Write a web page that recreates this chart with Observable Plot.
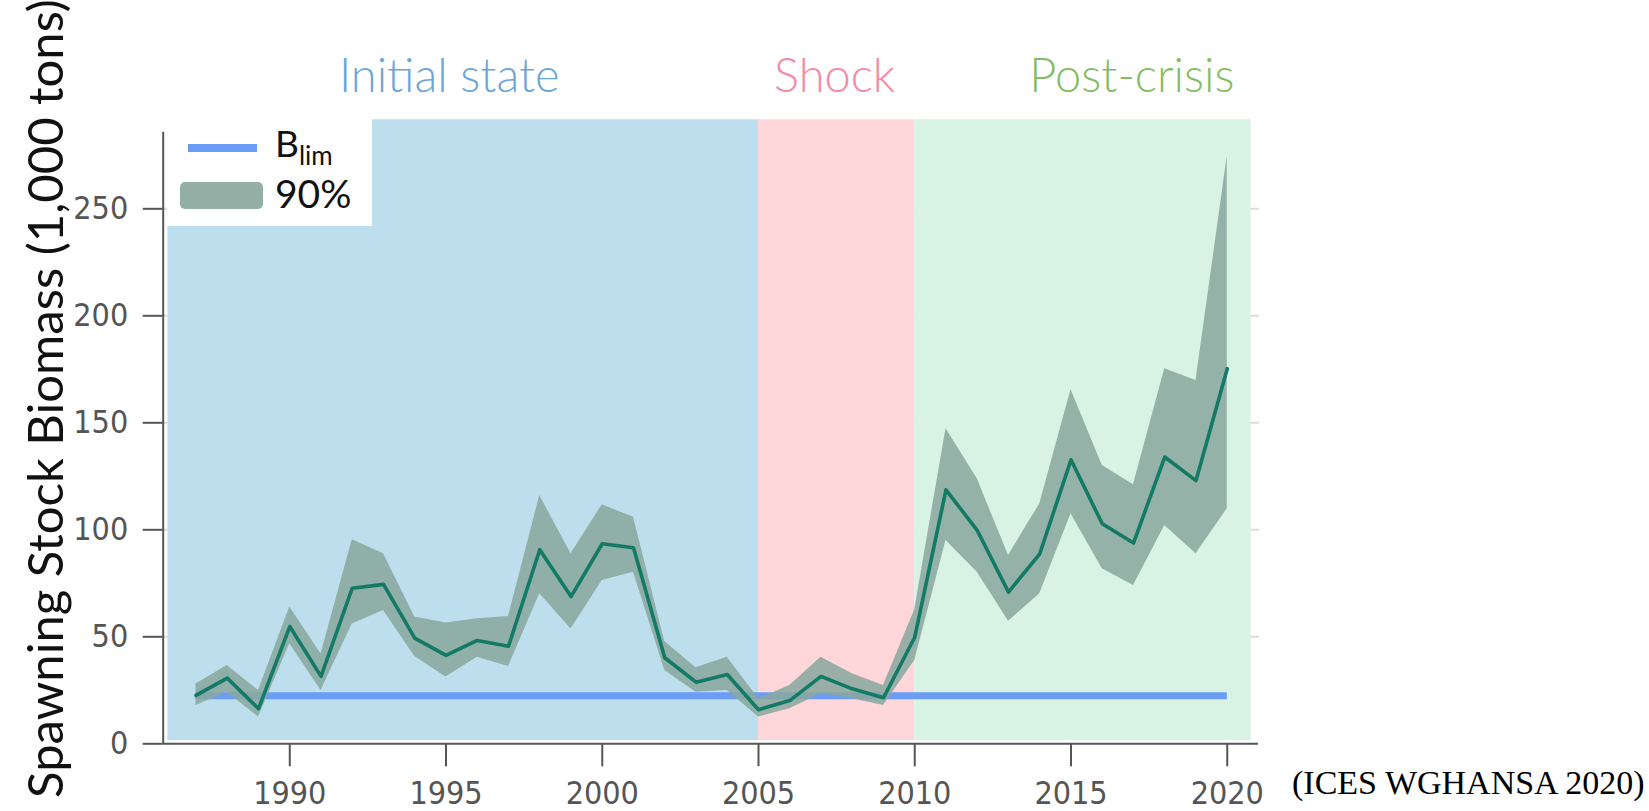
<!DOCTYPE html>
<html>
<head>
<meta charset="utf-8">
<script src="https://cdn.jsdelivr.net/npm/d3@7"></script>
<script src="https://cdn.jsdelivr.net/npm/@observablehq/plot@0.6"></script>
<style>
  html, body { margin: 0; padding: 0; background: #fff; }
  #wrap { position: relative; width: 1649px; height: 811px; overflow: hidden; }
  #wrap svg { position: absolute; left: 0; top: 0; }
  #legend { position: absolute; left: 167px; top: 119px; width: 205px; height: 107px; background: #fff; font-family: Lato, "Open Sans", sans-serif; color: #111; }
  #legend .sw-line { position: absolute; left: 21px; top: 25px; width: 69px; height: 8px; background: #6b9df7; }
  #legend .sw-band { position: absolute; left: 13px; top: 63px; width: 83px; height: 27px; background: #94b0a6; border-radius: 5px; }
  #legend .lab1 { position: absolute; left: 108px; top: 5px; font-size: 37px; line-height: 1; }
  #legend .lab1 sub { font-size: 26px; vertical-align: -8px; }
  #legend .lab2 { position: absolute; left: 108px; top: 55px; font-size: 39px; line-height: 1; }
</style>
</head>
<body>
<div id="wrap"></div>
<script>
// ---- data ----
const years = [1987,1988,1989,1990,1991,1992,1993,1994,1995,1996,1997,1998,1999,2000,2001,2002,2003,2004,2005,2006,2007,2008,2009,2010,2011,2012,2013,2014,2015,2016,2017,2018,2019,2020];
const ssb   = [22.6,30.7,16.4,54.8,31.5,72.7,74.5,49.4,41.3,48.3,45.6,90.7,68.8,93.5,91.6,40.2,28.8,32.4,15.9,20.2,31.5,25.7,21.5,49.8,118.7,99.7,70.9,88.8,132.7,102.8,93.8,134.0,123.0,175.3];
const lower = [17.9,24.1,12.5,46.7,24.9,56.0,62.3,40.8,31.2,40.5,36.1,70.1,53.7,76.3,80.2,34.3,24.1,24.9,12.5,16.4,23.4,21.0,17.9,38.9,95.0,80.2,57.3,70.1,107.5,81.8,74.0,102.0,88.8,109.8];
const upper = [28.0,36.6,24.9,63.9,42.0,95.3,88.8,59.2,56.4,58.4,59.5,116.0,88.8,111.7,105.9,47.8,35.5,40.5,21.0,27.3,40.5,32.7,27.3,62.6,147.2,123.8,88.0,112.1,165.5,130.0,121.0,175.2,169.8,274.5];
const blimValue = 22.5;
const blimYears = [1987, 2020];
const periodName  = ["Initial state", "Shock", "Post-crisis"];
const periodStart = [1986.1, 2005, 2010];
const periodEnd   = [2005, 2010, 2020.76];
const yTicks = [0, 50, 100, 150, 200, 250];
const xTicks = [1990, 1995, 2000, 2005, 2010, 2015, 2020];
const yTitle = "Spawning Stock Biomass (1,000 tons)";
const source = "(ICES WGHANSA 2020)";

// ---- styles ----
const bgFill    = ["#bddeec", "#ffd7da", "#d8f2e4"];
const labelFill = ["#6aa6da", "#fb87a5", "#84bd61"];
const labelDx   = [-14, -2, 49];
const tickFont  = "'Liberation Sans Narrow', 'DejaVu Sans Condensed', Roboto, sans-serif";

const series  = years.map((year, i) => ({year, ssb: ssb[i], lo: lower[i], hi: upper[i]}));
const periods = periodName.map((name, i) => ({name, start: periodStart[i], end: periodEnd[i], mid: (periodStart[i] + periodEnd[i]) / 2, bg: bgFill[i], fg: labelFill[i]}));

const X0 = 1985.95, X1 = 2021.0;

const chart = Plot.plot({
  width: 1649, height: 811,
  marginLeft: 162.7, marginRight: 391, marginTop: 122.7, marginBottom: 67.7,
  x: {domain: [X0, X1], axis: null},
  y: {domain: [0, 290], axis: null},
  color: {type: "identity"},
  style: {background: "transparent", overflow: "visible"},
  marks: [
    Plot.ruleY(yTicks.filter(d => d > 0), {x1: X0, x2: 2021.03, stroke: "#dcdcdc", strokeWidth: 2}),
    Plot.rect(periods, {x1: "start", x2: "end", y1: 1.5, y2: 291.6, fill: "bg"}),
    Plot.ruleY([blimValue], {x1: blimYears[0], x2: blimYears[1], stroke: "#6b9df7", strokeWidth: 7}),
    Plot.areaY(series, {x: "year", y1: "lo", y2: "hi", fill: "#8aa99e", fillOpacity: 0.88}),
    Plot.lineY(series, {x: "year", y: "ssb", stroke: "#127a65", strokeWidth: 3.6}),
    Plot.ruleX([X0], {y1: 0, y2: 285.8, stroke: "#555", strokeWidth: 2}),
    Plot.ruleY([0], {stroke: "#555", strokeWidth: 2}),
    Plot.axisY(yTicks, {tickSize: 20, tickPadding: 15, color: "#555", strokeWidth: 2, fontSize: 32, fontFamily: tickFont, label: null, tickFormat: d => String(d)}),
    Plot.axisX(xTicks, {tickSize: 23, tickPadding: 14, color: "#555", strokeWidth: 2, fontSize: 32, fontFamily: tickFont, label: null, tickFormat: d => String(d)}),
    ...periods.map((p, i) => Plot.text([p], {x: "mid", frameAnchor: "top", text: "name", fill: "fg", dx: labelDx[i], dy: -31.7, lineAnchor: "bottom", fontSize: 47, fontWeight: 300, fontFamily: "Lato, 'Open Sans', sans-serif"})),
    Plot.text([yTitle], {frameAnchor: "left", text: d => d, rotate: -90, dx: -115.7, dy: -35, textAnchor: "middle", lineAnchor: "middle", fontSize: 49, fontFamily: "Lato, 'Open Sans', sans-serif", fill: "#111"}),
    Plot.text([source], {frameAnchor: "bottom-right", text: d => d, dx: 33.5, dy: 50, textAnchor: "start", lineAnchor: "bottom", fontSize: 34, fontFamily: "'Liberation Serif', 'Times New Roman', serif", fill: "#000"})
  ]
});

const wrap = document.getElementById("wrap");
wrap.appendChild(chart);
const legend = document.createElement("div");
legend.id = "legend";
legend.innerHTML = '<div class="sw-line"></div><div class="lab1">B<sub>lim</sub></div><div class="sw-band"></div><div class="lab2">90%</div>';
wrap.appendChild(legend);
</script>
</body>
</html>
